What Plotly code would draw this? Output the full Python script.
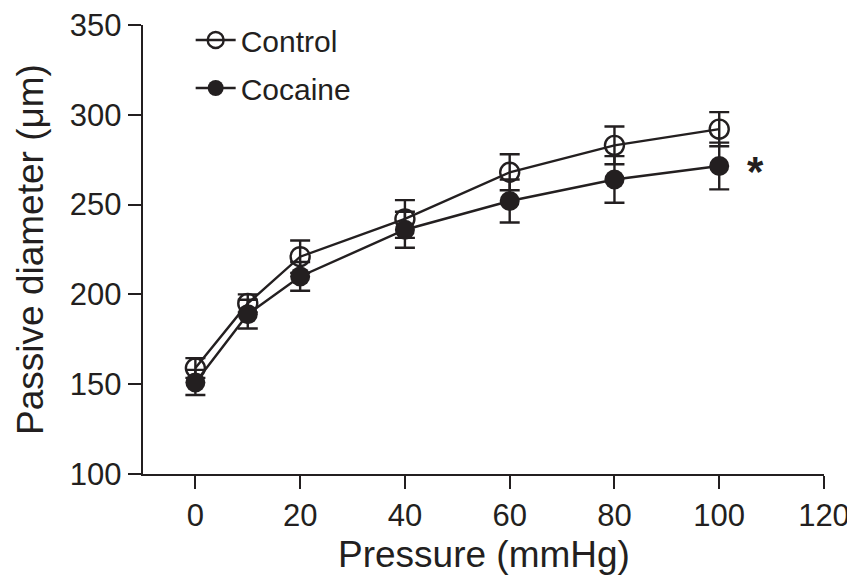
import plotly.graph_objects as go

pressure = [0, 10, 20, 40, 60, 80, 100]
control = [159, 195, 221, 242, 268, 283, 292]
control_err = [5.5, 5, 9, 10.5, 10, 10.5, 9.5]
cocaine = [151, 189, 210, 236, 252, 264, 271.5]
cocaine_err = [7, 8, 8, 10, 12, 13, 13]
x_ticks = [0, 20, 40, 60, 80, 100, 120]
y_ticks = [100, 150, 200, 250, 300, 350]

ink = "#231f20"
font = "Liberation Sans, Arial, sans-serif"

fig = go.Figure()
fig.add_trace(go.Scatter(
    x=pressure, y=control, name="Control", mode="lines+markers", legendgroup="c",
    line=dict(color=ink, width=2.4),
    marker=dict(symbol="circle-open", size=19, color=ink, line=dict(width=2.4, color=ink)),
    error_y=dict(type="data", array=control_err, visible=True, color=ink, thickness=2.4, width=10),
))
fig.add_trace(go.Scatter(
    x=pressure, y=cocaine, name="Cocaine", mode="lines+markers", legendgroup="k",
    line=dict(color=ink, width=2.4),
    marker=dict(symbol="circle", size=20, color=ink, line=dict(width=0)),
    error_y=dict(type="data", array=cocaine_err, visible=True, color=ink, thickness=2.4, width=10),
))
fig.add_annotation(x=107, y=cocaine[-1], text="<b>*</b>", showarrow=False,
                   font=dict(size=42, color=ink, family=font), yshift=-6)
fig.add_annotation(x=0.5, y=0, xref="paper", yref="paper", text="Pressure (mmHg)",
                   showarrow=False, xanchor="center", yanchor="middle", yshift=-80,
                   font=dict(size=37, color=ink, family=font))

fig.update_layout(
    width=847, height=569,
    margin=dict(l=135, r=31, t=17, b=103, autoexpand=False),
    paper_bgcolor="white", plot_bgcolor="white",
    font=dict(family=font, color=ink, size=31),
    showlegend=True,
    legend=dict(x=0.07, y=1.0245, xanchor="left", yanchor="top",
                font=dict(size=30, color=ink), bgcolor="rgba(0,0,0,0)",
                tracegroupgap=6, itemwidth=40),
)
fig.update_xaxes(
    range=[-10, 120], tickvals=x_ticks, ticks="outside", ticklen=13, tickwidth=2.4,
    tickcolor=ink, showline=True, linecolor=ink, linewidth=2.4, showgrid=False,
    zeroline=False, tickfont=dict(size=31), automargin=False, ticklabeloverflow="allow",
)
fig.update_yaxes(
    range=[100, 350], tickvals=y_ticks, ticks="outside", ticklen=13, tickwidth=2.4,
    tickcolor=ink, showline=True, linecolor=ink, linewidth=2.4, showgrid=False,
    zeroline=False, tickfont=dict(size=31), automargin=False, ticklabeloverflow="allow",
    title=dict(text="Passive diameter (μm)", font=dict(size=37)),
)
fig.write_html("out.html")
